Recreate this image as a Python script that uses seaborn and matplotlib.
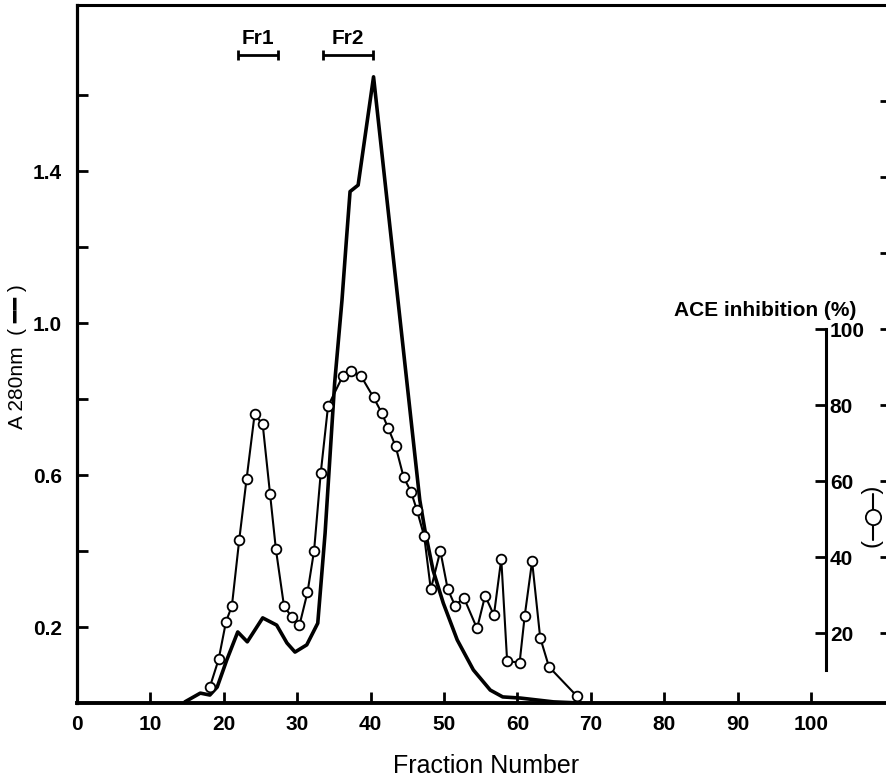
import matplotlib
matplotlib.use("Agg")
import matplotlib.pyplot as plt
import seaborn as sns
import numpy as np

# ---------------- data ----------------
# A280 elution profile (solid line)
a280_fraction = [14.7, 16.8, 18.1, 19.1, 20.4, 21.9, 23.2, 25.3, 27.2, 28.6, 29.7,
                 31.3, 32.8, 33.8, 35.1, 36.1, 36.7, 37.2, 38.3, 40.4,
                 46.7, 47.4, 48.5, 49.9, 51.8, 54.0, 56.3, 58.0, 60.4, 64.9, 68.5]
a280_value = [0.003, 0.026, 0.021, 0.042, 0.113, 0.187, 0.161, 0.224, 0.205, 0.158, 0.134,
              0.153, 0.210, 0.447, 0.842, 1.060, 1.218, 1.346, 1.363, 1.648,
              0.534, 0.455, 0.350, 0.263, 0.166, 0.087, 0.034, 0.016, 0.013, 0.003, 0.0]

# ACE inhibition (%) (open circles)
ace_fraction = [18.1, 19.3, 20.3, 21.1, 22.1, 23.1, 24.2, 25.3, 26.3, 27.1, 28.2,
                29.3, 30.3, 31.4, 32.3, 33.2, 34.2, 36.2, 37.3, 38.7, 40.4,
                41.5, 42.4, 43.4, 44.5, 45.5, 46.3, 47.3, 48.2, 49.5, 50.5,
                51.5, 52.7, 54.5, 55.6, 56.8, 57.8, 58.6, 60.3, 61.0, 62.0,
                63.1, 64.3, 68.1]
ace_inhibition = [5.8, 13.1, 23.0, 27.1, 44.5, 60.5, 77.6, 74.9, 56.6, 42.0, 27.1,
                  24.1, 22.0, 30.7, 41.7, 62.0, 79.7, 87.6, 89.0, 87.6, 82.0,
                  78.0, 73.9, 69.2, 61.0, 57.2, 52.4, 45.5, 31.5, 41.6, 31.6,
                  27.2, 29.3, 21.2, 29.8, 24.7, 39.5, 12.6, 12.2, 24.6, 38.9,
                  18.8, 11.1, 3.4]

# pooled fractions
fr_labels = ["Fr1", "Fr2"]
fr_start = [21.9, 33.5]
fr_end = [27.4, 40.3]

x_ticks = [0, 10, 20, 30, 40, 50, 60, 70, 80, 90, 100]
y_major_ticks = [0.2, 0.6, 1.0, 1.4]
y_minor_ticks = [0.4, 0.8, 1.2, 1.6]
ace_ticks = [20, 40, 60, 80, 100]
ace_outer_ticks = [20, 40, 60, 80, 100, 120, 140, 160]

# ---------------- style ----------------
sns.set_theme(style="white")
plt.rcParams["font.family"] = ["Liberation Sans", "DejaVu Sans"]
plt.rcParams["text.color"] = "black"
plt.rcParams["axes.labelcolor"] = "black"
plt.rcParams["xtick.color"] = "black"
plt.rcParams["ytick.color"] = "black"

fig = plt.figure(figsize=(8.87, 7.8), dpi=100)
ax = fig.add_axes([77 / 887, 77 / 780, 817.7 / 887, 698 / 780])
ax.set_xlim(0, 111.4)
ax.set_ylim(0, 1.837)

sns.lineplot(x=a280_fraction, y=a280_value, ax=ax, color="black", lw=2.6,
             sort=False, estimator=None)

# spines
for s in ["left", "bottom", "top"]:
    ax.spines[s].set_color("black")
ax.spines["left"].set_linewidth(2.3)
ax.spines["bottom"].set_linewidth(2.8)
ax.spines["top"].set_linewidth(2.2)
ax.spines["right"].set_visible(False)

ax.set_xticks(x_ticks)
ax.set_xticklabels([str(t) for t in x_ticks], fontsize=15, fontweight="bold")
ax.set_yticks(y_major_ticks)
ax.set_yticklabels([f"{t:.1f}" for t in y_major_ticks], fontsize=15, fontweight="bold")
ax.set_yticks(y_minor_ticks, minor=True)
ax.tick_params(axis="x", direction="in", length=8, width=2, pad=9, colors="black",
               bottom=True, top=False)
ax.tick_params(axis="y", which="both", direction="in", length=8, width=2, pad=11,
               colors="black", left=True, right=False)
ax.tick_params(axis="y", which="minor", labelleft=False)
ax.set_xlabel("")
ax.set_ylabel("")

# fraction brackets
for lab, a, b in zip(fr_labels, fr_start, fr_end):
    c = (a + b) / 2
    ax.errorbar([c], [1.705], xerr=[(b - a) / 2], fmt="none", ecolor="black",
                elinewidth=2, capsize=3.3, capthick=2)
    ax.text(c, 1.750, lab, ha="center", va="center", fontsize=15, fontweight="bold")

# outer right ticks (ACE scale)
ax3 = ax.twinx()
ax3.set_ylim(1.58, 185.3)
for s in ["left", "bottom", "top", "right"]:
    ax3.spines[s].set_visible(False)
ax3.set_yticks(ace_outer_ticks)
ax3.tick_params(axis="y", direction="in", length=11, width=2, colors="black",
                right=True, labelright=False, left=False)

# ACE inhibition axis
ax2 = ax.twinx()
ax2.set_ylim(1.58, 185.3)
for s in ["left", "bottom", "top"]:
    ax2.spines[s].set_visible(False)
ax2.spines["right"].set_position(("data", 102.0))
ax2.spines["right"].set_bounds(10.3, 100)
ax2.spines["right"].set_linewidth(2.2)
ax2.spines["right"].set_color("black")
ax2.set_yticks(ace_ticks)
ax2.set_yticklabels([str(t) for t in ace_ticks], fontsize=15, fontweight="bold")
ax2.tick_params(axis="y", direction="in", length=8, width=2, pad=3, colors="black",
                right=True, left=False, labelright=True)

sns.lineplot(x=ace_fraction, y=ace_inhibition, ax=ax2, color="black", lw=1.5,
             marker="o", markersize=7, markerfacecolor="white",
             markeredgecolor="black", markeredgewidth=1.3, sort=False, estimator=None)
ax2.set_xlabel("")
ax2.set_ylabel("")
ax2.set_xlim(0, 111.4)

ax2.text(93.7, 105, "ACE inhibition (%)", ha="center", va="center",
         fontsize=15, fontweight="bold")

# right axis symbol  ( -o- )
ax2.plot([108.4, 108.4, 108.4], [44.5, 50.5, 56.5], color="black", lw=1.5,
         marker="o", markevery=[1], markersize=11, markerfacecolor="white",
         markeredgecolor="black", markeredgewidth=1.3, clip_on=False)
ax2.text(108.4, 50.5, "(       )", rotation=90, ha="center", va="center",
         fontsize=17, clip_on=False)

# axis titles
fig.text(18 / 887, 1 - 357 / 780, "A 280nm  ( \u2501\u2501 )", rotation=90,
         ha="center", va="center", fontsize=15,
         family=["Liberation Sans", "DejaVu Sans"])
fig.text(486 / 887, 1 - 766 / 780, "Fraction Number", ha="center", va="center",
         fontsize=18)

fig.savefig("out.png", dpi=100)
